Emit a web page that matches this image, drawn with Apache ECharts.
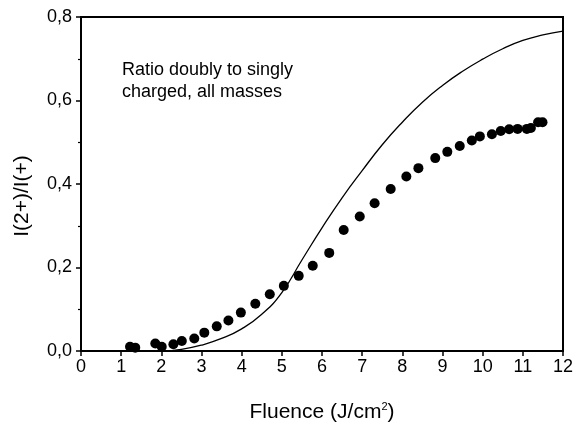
<!DOCTYPE html>
<html>
<head>
<meta charset="utf-8">
<script src="https://cdn.jsdelivr.net/npm/echarts@6/dist/echarts.min.js"></script>
<style>
html,body{margin:0;padding:0;background:#fff;}
#chart{width:574px;height:422px;}
</style>
</head>
<body>
<div id="chart"></div>
<script>
// Measured ratio (dots): fluence (J/cm^2) and I(2+)/I(+)
var dotFluence = [1.22, 1.35, 1.85, 2.01, 2.30, 2.51, 2.82, 3.07, 3.38, 3.67, 3.98, 4.34, 4.70, 5.05, 5.42, 5.77, 6.18, 6.54, 6.94, 7.31, 7.71, 8.10, 8.40, 8.82, 9.12, 9.43, 9.73, 9.93, 10.23, 10.45, 10.66, 10.87, 11.10, 11.20, 11.38, 11.49];
var dotRatio   = [0.010, 0.008, 0.018, 0.010, 0.016, 0.024, 0.030, 0.044, 0.059, 0.073, 0.092, 0.113, 0.136, 0.156, 0.180, 0.204, 0.235, 0.290, 0.322, 0.354, 0.388, 0.418, 0.438, 0.462, 0.477, 0.491, 0.504, 0.514, 0.519, 0.527, 0.531, 0.532, 0.532, 0.534, 0.548, 0.548];

// Model curve (solid line)
var curveFluence = [2.0, 2.5, 3.0, 3.5, 4.0, 4.5, 5.0, 5.5, 6.0, 6.5, 7.0, 7.5, 8.0, 8.5, 9.0, 9.5, 10.0, 10.5, 11.0, 11.5, 12.0];
var curveRatio   = [0.000, 0.004, 0.014, 0.030, 0.053, 0.088, 0.140, 0.218, 0.295, 0.367, 0.432, 0.494, 0.548, 0.596, 0.636, 0.670, 0.699, 0.724, 0.744, 0.757, 0.766];

var xTicks = [0,1,2,3,4,5,6,7,8,9,10,11,12];
var yTicks = [0.0, 0.2, 0.4, 0.6, 0.8];

var xTitle = 'Fluence (J/cm{sup|2})';
var yTitle = 'I(2+)/I(+)';
var annotationLines = ['Ratio doubly to singly', 'charged, all masses'];

function zip(a, b) { return a.map(function (v, i) { return [v, b[i]]; }); }

var FONT = 'Liberation Sans, Arial, Helvetica, sans-serif';
var chart = echarts.init(document.getElementById('chart'), null, {renderer: 'canvas'});
chart.setOption({
  animation: false,
  backgroundColor: '#fff',
  grid: {left: 81, right: 11, top: 17, bottom: 71, show: true, borderColor: '#000', borderWidth: 2,
         containLabel: false, outerBoundsMode: 'none'},
  xAxis: {
    type: 'value', min: xTicks[0], max: xTicks[xTicks.length - 1], interval: 1,
    name: xTitle, nameLocation: 'middle', nameGap: 50,
    nameTextStyle: {fontFamily: FONT, fontSize: 21, color: '#000',
      rich: {sup: {fontFamily: FONT, fontSize: 11, verticalAlign: 'top', padding: [0, 0, 12, 0], color: '#000'}}},
    axisLine: {lineStyle: {color: '#000', width: 2}},
    axisTick: {show: true, length: 5, lineStyle: {color: '#000', width: 1.5}},
    axisLabel: {fontFamily: FONT, fontSize: 18, color: '#000', margin: 7},
    splitLine: {show: false}
  },
  yAxis: {
    type: 'value', min: yTicks[0], max: yTicks[yTicks.length - 1], interval: 0.2,
    axisLine: {lineStyle: {color: '#000', width: 2}},
    axisTick: {show: true, length: 5, lineStyle: {color: '#000', width: 1.5}},
    minorTick: {show: true, splitNumber: 2, length: 3, lineStyle: {color: '#000', width: 1.2}},
    axisLabel: {fontFamily: FONT, fontSize: 18, color: '#000', margin: 9,
      formatter: function (v) { return v.toFixed(1).replace('.', ','); }},
    splitLine: {show: false}
  },
  graphic: [{
    type: 'text', left: 122, top: 59,
    style: {text: annotationLines.join('\n'), fontFamily: FONT, fontSize: 18, lineHeight: 22, fill: '#000'}
  }, {
    type: 'text', x: 22, y: 196, rotation: Math.PI / 2,
    style: {text: yTitle, fontFamily: FONT, fontSize: 21, fill: '#000', align: 'center', verticalAlign: 'middle'}
  }],
  series: [
    {type: 'line', data: zip(curveFluence, curveRatio), smooth: 0.5, showSymbol: false,
     lineStyle: {color: '#000', width: 1.3}, z: 2},
    {type: 'scatter', data: zip(dotFluence, dotRatio), symbol: 'circle', symbolSize: 10,
     itemStyle: {color: '#000', opacity: 1}, z: 3}
  ]
});
</script>
</body>
</html>
